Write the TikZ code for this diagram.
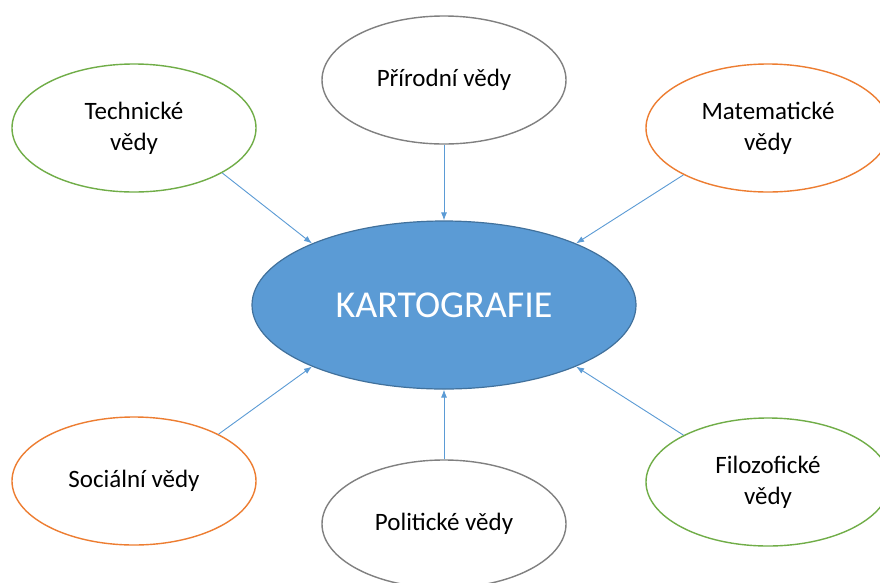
\documentclass[tikz,border=0pt]{standalone}
\usepackage{fontspec}
\setmainfont{Carlito}
\usetikzlibrary{shapes.geometric,arrows.meta}
\definecolor{cgreen}{HTML}{70AD47}
\definecolor{corange}{HTML}{ED7D31}
\definecolor{cgray}{HTML}{808080}
\definecolor{cblue}{HTML}{5B9BD5}
\definecolor{cblueline}{HTML}{41719C}
\tikzset{
  sat/.style={ellipse, draw, line width=1.4pt, fill=white, minimum width=244pt, minimum height=128pt, inner sep=0pt, align=center, font=\fontsize{25}{31}\selectfont, text=black},
  central/.style={ellipse, draw=cblueline, line width=1.2pt, fill=cblue, minimum width=384pt, minimum height=168pt, inner sep=0pt, text=white, font=\fontsize{38}{44}\selectfont},
  conn/.style={draw=cblue, line width=0.9pt, -{Latex[length=8pt,width=6pt]}}
}
\begin{document}
\begin{tikzpicture}[x=1pt,y=-1pt]
\useasboundingbox[fill=white] (0,0) rectangle (880,582);
\node[central] (kart) at (444,305) {KARTOGRAFIE};
\node[sat, draw=cgray] (prir) at (444,80) {Přírodní vědy};
\node[sat, draw=cgreen] (tech) at (134,128) {Technické\\vědy};
\node[sat, draw=corange] (mat) at (768,128) {Matematické\\vědy};
\node[sat, draw=corange] (soc) at (134,481) {Sociální vědy};
\node[sat, draw=cgray] (pol) at (444,524) {Politické vědy};
\node[sat, draw=cgreen] (filo) at (768,482) {Filozofické\\vědy};
\draw[conn] (prir.south) -- (kart.north);
\draw[conn] (pol.north) -- (kart.south);
\draw[conn] (tech.-27) -- (kart.155);
\draw[conn] (mat.209) -- (kart.25);
\draw[conn] (soc.29) -- (kart.205);
\draw[conn] (filo.151) -- (kart.-25);
\end{tikzpicture}
\end{document}
